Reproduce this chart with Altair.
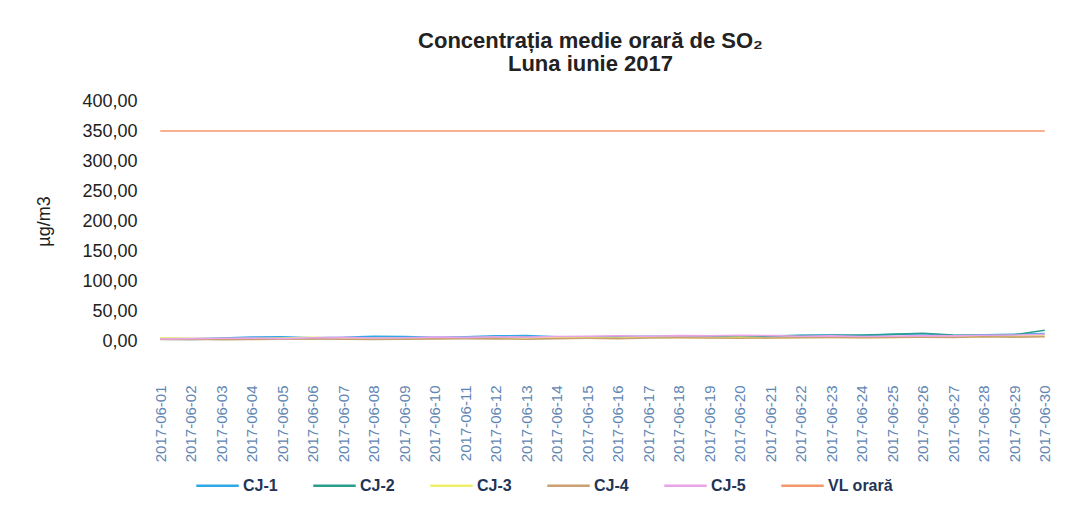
import altair as alt
import pandas as pd

dates = ["2017-06-01", "2017-06-02", "2017-06-03", "2017-06-04", "2017-06-05",
         "2017-06-06", "2017-06-07", "2017-06-08", "2017-06-09", "2017-06-10",
         "2017-06-11", "2017-06-12", "2017-06-13", "2017-06-14", "2017-06-15",
         "2017-06-16", "2017-06-17", "2017-06-18", "2017-06-19", "2017-06-20",
         "2017-06-21", "2017-06-22", "2017-06-23", "2017-06-24", "2017-06-25",
         "2017-06-26", "2017-06-27", "2017-06-28", "2017-06-29", "2017-06-30"]

cj1 = [4.0, 3.5, 5.0, 6.5, 7.0, 5.5, 6.0, 8.0, 7.5, 6.0, 7.0, 8.5, 9.0, 7.0, 6.5,
       7.5, 8.0, 7.0, 6.5, 7.0, 8.0, 9.5, 10.0, 9.0, 11.0, 12.0, 9.0, 10.5, 11.0, 12.5]
cj2 = [3.0, 2.5, 3.5, 4.0, 4.5, 4.0, 5.0, 5.5, 4.5, 5.0, 5.5, 6.0, 6.5, 5.5, 6.0,
       6.5, 7.0, 7.5, 7.0, 8.0, 8.5, 9.0, 9.5, 10.0, 11.0, 13.0, 10.0, 9.0, 10.5, 18.0]
cj3 = [5.5, 4.5, 3.5, 4.0, 5.0, 6.0, 4.5, 5.0, 5.5, 4.0, 5.0, 4.5, 5.0, 6.0, 5.5,
       5.0, 6.5, 6.0, 5.5, 6.0, 5.0, 6.0, 6.5, 5.5, 6.0, 7.0, 6.5, 7.5, 8.0, 9.0]
cj4 = [2.5, 3.0, 2.0, 2.5, 3.0, 3.5, 3.0, 2.5, 3.0, 3.5, 4.0, 3.5, 3.0, 4.0, 4.5,
       4.0, 5.0, 5.5, 5.0, 4.5, 5.0, 5.5, 6.0, 5.5, 6.0, 6.5, 6.0, 7.0, 6.5, 7.0]
cj5 = [3.5, 4.0, 4.5, 5.0, 4.0, 5.5, 6.0, 5.0, 5.5, 6.5, 6.0, 7.0, 6.5, 7.5, 8.0,
       8.5, 8.0, 9.0, 8.5, 9.5, 9.0, 8.0, 8.5, 7.5, 8.0, 9.0, 8.5, 9.5, 10.0, 11.0]
vl = [350.0] * 30

series_names = ["CJ-1", "CJ-2", "CJ-3", "CJ-4", "CJ-5", "VL orară"]
series_values = [cj1, cj2, cj3, cj4, cj5, vl]
series_colors = ["#2ea8e6", "#2a9d8f", "#eef06a", "#c9a06e", "#e9a3e8", "#f4976a"]
y_ticks = [0, 50, 100, 150, 200, 250, 300, 350, 400]

rows = []
for name, vals in zip(series_names, series_values):
    for d, v in zip(dates, vals):
        rows.append({"Data": d, "Serie": name, "Valoare": v})
df = pd.DataFrame(rows)

font = "Liberation Sans"

chart = alt.Chart(df).mark_line(strokeWidth=1.6).encode(
    x=alt.X("Data:O", sort=dates, title=None,
            scale=alt.Scale(paddingInner=0, paddingOuter=0),
            axis=alt.Axis(labelAngle=-90, labelColor="#5f86b3", labelFontSize=15,
                          labelFont=font, labelPadding=44, ticks=False, domain=False,
                          grid=False)),
    y=alt.Y("Valoare:Q", title="µg/m3",
            scale=alt.Scale(domain=[0, 400], nice=False),
            axis=alt.Axis(values=y_ticks, labelExpr="replace(format(datum.value, '.2f'), '.', ',')",
                          labelFontSize=18, labelFont=font, labelColor="#222222",
                          labelPadding=8, ticks=False, domain=False, grid=False,
                          titleFontSize=18, titleFont=font, titleFontWeight="normal",
                          titleColor="#222222", titlePadding=28)),
    color=alt.Color("Serie:N", sort=series_names,
                    scale=alt.Scale(domain=series_names, range=series_colors),
                    legend=alt.Legend(orient="none", legendX=50, legendY=362,
                                      direction="horizontal", title=None,
                                      symbolType="stroke", symbolSize=1800,
                                      symbolStrokeWidth=2.5, labelFont=font,
                                      labelFontSize=16, labelFontWeight="bold",
                                      labelColor="#1f3556", columnPadding=30,
                                      labelOffset=3, labelLimit=200)),
).properties(
    width=915,
    height=240,
    padding={"left": 137, "top": 93, "right": 5, "bottom": 157},
    autosize=alt.AutoSizeParams(type="none"),
    title=alt.TitleParams(["Concentrația medie orară de SO₂", "Luna iunie 2017"],
                          font=font, fontSize=22, fontWeight="bold", color="#222222",
                          anchor="middle", offset=16, dx=-12, lineHeight=23),
).configure(background="white").configure_view(stroke=None)

chart.save("out.html", embed_options={"renderer": "svg", "actions": False})
